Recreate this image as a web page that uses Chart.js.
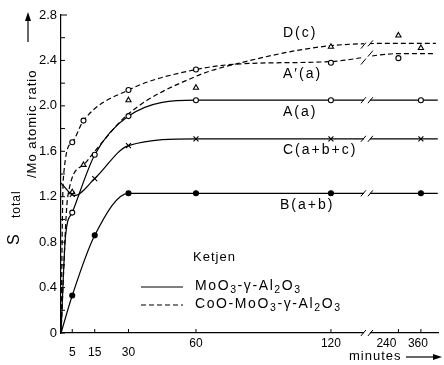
<!DOCTYPE html>
<html>
<head>
<meta charset="utf-8">
<script src="https://cdn.jsdelivr.net/npm/chart.js"></script>
<style>
  body { margin: 0; background: #fff; }
  #wrap { width: 444px; height: 365px; }
</style>
</head>
<body>
<div id="wrap"><canvas id="myChart" width="444" height="365"></canvas></div>
<script>
// x axis ticks (minutes)
const tickMinutes = [5, 15, 30, 60, 120, 240, 360];
const tickLabels = ['5', '15', '30', '60', '120', '240', '360'];

// smooth curves
const curveA_t = [0, 2, 5, 15, 30, 60, 120, 240, 450];
const curveA_v = [0, 0.85, 1.06, 1.57, 1.91, 2.05, 2.05, 2.05, 2.05];
const curveB_t = [0, 5, 15, 30, 60, 120, 240, 450];
const curveB_v = [0, 0.33, 0.86, 1.23, 1.23, 1.23, 1.23, 1.23];
const curveC_t = [0, 6, 15, 30, 60, 120, 240, 450];
const curveC_v = [1.32, 1.21, 1.36, 1.65, 1.71, 1.71, 1.71, 1.71];
const curveD_t = [0, 3, 10, 15, 30, 60, 80, 120, 240, 440];
const curveD_v = [0, 1.2, 1.48, 1.6, 1.93, 2.26, 2.38, 2.53, 2.55, 2.55];
const curveAp_t = [0, 1, 5, 10, 30, 60, 80, 120, 240, 440];
const curveAp_v = [0, 1.35, 1.68, 1.87, 2.14, 2.32, 2.37, 2.39, 2.46, 2.46];

// measured points
const pointsA_t = [5, 15, 30, 60, 120, 360];
const pointsA_v = [1.06, 1.57, 1.91, 2.05, 2.05, 2.05];
const pointsB_t = [5, 15, 30, 60, 120, 360];
const pointsB_v = [0.33, 0.86, 1.23, 1.23, 1.23, 1.23];
const pointsC_t = [5, 15, 30, 60, 120, 360];
const pointsC_v = [1.22, 1.36, 1.65, 1.71, 1.71, 1.71];
const pointsD_t = [5, 10, 30, 60, 120, 240, 360];
const pointsD_v = [1.24, 1.48, 2.05, 2.16, 2.52, 2.62, 2.51];
const pointsAp_t = [5, 10, 30, 60, 120, 240];
const pointsAp_v = [1.68, 1.87, 2.14, 2.32, 2.38, 2.42];

// broken time axis: linear up to 120 min, compressed after the break
function xPos(t) {
  return t <= 120 ? t : 140 + (t - 120) / 12;
}
const BREAK_POS = 136;

function pts(ts, vs) {
  return ts.map((t, i) => ({ x: xPos(t), y: vs[i] }));
}

const FONT = 'Liberation Sans, Arial, sans-serif';

function curve(ts, vs, dashed) {
  return {
    data: pts(ts, vs), showLine: true, borderColor: '#000', borderWidth: 1.2,
    borderDash: dashed ? [5, 3] : [], pointRadius: 0, cubicInterpolationMode: 'monotone',
    fill: false, order: 2
  };
}
function marks(ts, vs, style, filled, r) {
  return {
    data: pts(ts, vs), showLine: false, pointStyle: style, pointRadius: r,
    pointBackgroundColor: filled ? '#000' : '#fff', pointBorderColor: '#000',
    pointBorderWidth: 1.1, order: 1
  };
}

// draws text with subscript parts: [[text, isSub], ...]
function richText(ctx, parts, x, y, size) {
  let cx = x;
  parts.forEach(([txt, sub]) => {
    ctx.font = (sub ? size * 0.75 : size) + 'px ' + FONT;
    ctx.fillText(txt, cx, y + (sub ? size * 0.3 : 0));
    cx += ctx.measureText(txt).width;
  });
  return cx;
}

function arrowHead(ctx, x, y, ang) {
  ctx.save();
  ctx.translate(x, y);
  ctx.rotate(ang);
  ctx.beginPath();
  ctx.moveTo(0, 0);
  ctx.lineTo(-9, -3);
  ctx.lineTo(-9, 3);
  ctx.closePath();
  ctx.fill();
  ctx.restore();
}

const decor = {
  id: 'decor',
  afterDatasetsDraw(chart) {
    const { ctx, chartArea: ca, scales: { x, y } } = chart;
    ctx.save();
    ctx.strokeStyle = '#000';
    ctx.fillStyle = '#000';
    ctx.lineWidth = 1;

    // inward ticks
    ctx.beginPath();
    y.ticks.forEach(t => {
      const py = y.getPixelForValue(t.value);
      ctx.moveTo(ca.left, py);
      ctx.lineTo(ca.left + (t.value > 2.75 ? 6 : 4), py);
    });
    x.ticks.forEach(t => {
      const px = x.getPixelForValue(t.value);
      ctx.moveTo(px, ca.bottom);
      ctx.lineTo(px, ca.bottom - 4);
    });
    ctx.stroke();

    // x tick labels (the scanned labels sit at slightly different heights)
    ctx.font = '12px ' + FONT;
    ctx.textAlign = 'center';
    ctx.textBaseline = 'middle';
    x.ticks.forEach((t, i) => {
      const px = x.getPixelForValue(t.value);
      const m = tickMinutes[i];
      const dx = m === 240 ? -12 : (m === 360 ? -3 : 0);
      ctx.fillText(tickLabels[i], px + dx, ca.bottom + (m >= 60 ? 11 : 20));
    });
    ctx.textAlign = 'left';

    // axis break
    const bx = x.getPixelForValue(BREAK_POS);
    ctx.fillStyle = '#fff';
    ctx.fillRect(bx - 3, ca.top, 6, ca.bottom - ca.top + 2);
    ctx.fillStyle = '#000';
    const levels = [
      [curveA_v[6], curveA_v[7]], [curveB_v[5], curveB_v[6]], [curveC_v[5], curveC_v[6]],
      [curveD_v[7], curveD_v[8]], [curveAp_v[7], curveAp_v[8]], [0, 0]
    ];
    ctx.beginPath();
    levels.forEach(([l, r]) => {
      const yl = y.getPixelForValue(l), yr = y.getPixelForValue(r);
      ctx.moveTo(bx - 6, yl + 3); ctx.lineTo(bx - 1, yl - 3);
      ctx.moveTo(bx + 1, yr + 3); ctx.lineTo(bx + 6, yr - 3);
    });
    ctx.stroke();

    // curve labels
    ctx.font = '14px ' + FONT;
    ctx.letterSpacing = '2px';
    ctx.fillText('D(c)', 283, 33);
    ctx.fillText('A\u2032(a)', 283, 74);
    ctx.fillText('A(a)', 283, 112);
    ctx.fillText('C(a+b+c)', 283, 150);
    ctx.fillText('B(a+b)', 280, 205);

    // legend
    ctx.letterSpacing = '1px';
    ctx.font = '13px ' + FONT;
    ctx.fillText('Ketjen', 193, 257);
    ctx.lineWidth = 1.2;
    ctx.beginPath();
    ctx.moveTo(141, 287); ctx.lineTo(183, 287);
    ctx.stroke();
    ctx.setLineDash([5, 3]);
    ctx.beginPath();
    ctx.moveTo(141, 305); ctx.lineTo(183, 305);
    ctx.stroke();
    ctx.setLineDash([]);
    ctx.letterSpacing = '1.6px';
    richText(ctx, [['MoO', 0], ['3', 1], ['-\u03b3-Al', 0], ['2', 1], ['O', 0], ['3', 1]], 195, 286, 14);
    richText(ctx, [['CoO-MoO', 0], ['3', 1], ['-\u03b3-Al', 0], ['2', 1], ['O', 0], ['3', 1]], 195, 304, 14);

    // x title
    ctx.letterSpacing = '1px';
    ctx.font = '13px ' + FONT;
    ctx.fillText('minutes', 349, 356);
    ctx.beginPath();
    ctx.moveTo(406, 357); ctx.lineTo(434, 357);
    ctx.stroke();
    arrowHead(ctx, 442, 357, 0);

    // y title
    ctx.save();
    ctx.rotate(-Math.PI / 2);
    ctx.textBaseline = 'alphabetic';
    ctx.font = '16px ' + FONT;
    ctx.fillText('S', -245, 19);
    ctx.font = '12px ' + FONT;
    ctx.fillText('total', -218, 20);
    ctx.font = '13px ' + FONT;
    ctx.fillText('/Mo atomic ratio', -178, 36);
    ctx.restore();
    ctx.beginPath();
    ctx.moveTo(28, 42); ctx.lineTo(28, 20);
    ctx.stroke();
    arrowHead(ctx, 28, 12, -Math.PI / 2);

    ctx.restore();
  }
};

const ctx = document.getElementById('myChart').getContext('2d');
new Chart(ctx, {
  type: 'scatter',
  data: {
    datasets: [
      marks(pointsA_t, pointsA_v, 'circle', false, 2.5),
      marks(pointsB_t, pointsB_v, 'circle', true, 2.5),
      marks(pointsC_t, pointsC_v, 'crossRot', false, 3.5),
      marks(pointsD_t, pointsD_v, 'triangle', false, 3),
      marks(pointsAp_t, pointsAp_v, 'circle', false, 2.5),
      curve(curveA_t, curveA_v, false),
      curve(curveB_t, curveB_v, false),
      curve(curveC_t, curveC_v, false),
      curve(curveD_t, curveD_v, true),
      curve(curveAp_t, curveAp_v, true)
    ]
  },
  options: {
    responsive: false,
    animation: false,
    layout: { padding: { top: 15, right: 5, left: 0, bottom: 0 } },
    plugins: { legend: { display: false }, tooltip: { enabled: false } },
    scales: {
      x: {
        type: 'linear', min: 0, max: 168,
        afterBuildTicks: s => { s.ticks = tickMinutes.map(t => ({ value: xPos(t) })); },
        afterFit: s => { s.height = 32; },
        ticks: { display: false },
        grid: { display: false, drawTicks: false },
        border: { display: true, color: '#000', width: 1.2 }
      },
      y: {
        min: 0, max: 2.8,
        afterFit: s => { s.width = 61; },
        ticks: {
          stepSize: 0.2,
          callback: v => {
            const k = Math.round(v * 10);
            if (k % 4 !== 0) return '';
            return k === 0 ? '0' : (k / 10).toFixed(1);
          },
          color: '#000', font: { family: FONT, size: 13 }, padding: 4
        },
        grid: { display: false, drawTicks: false },
        border: { display: true, color: '#000', width: 1.2 }
      }
    }
  },
  plugins: [decor]
});
</script>
</body>
</html>
